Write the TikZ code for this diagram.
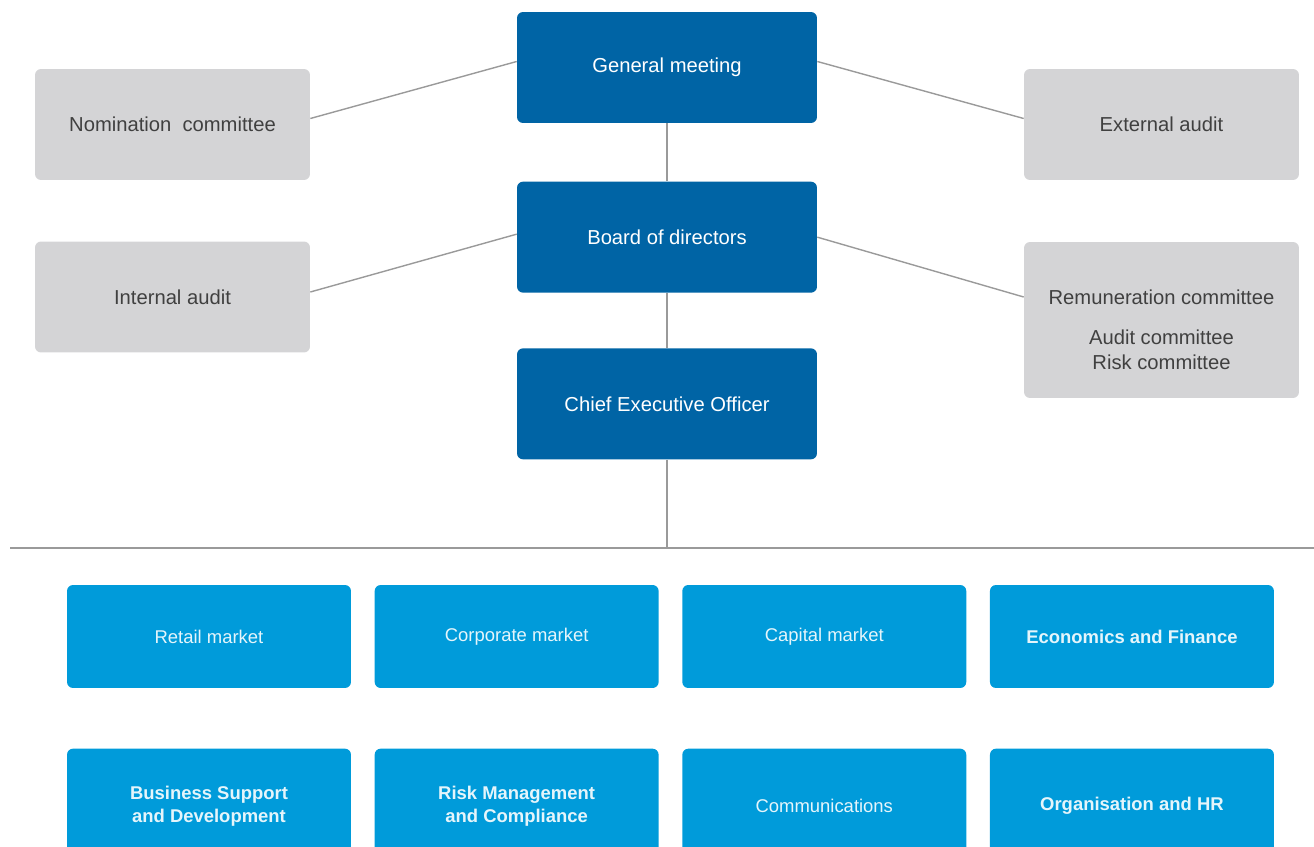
\documentclass[tikz,border=0pt]{standalone}
\usepackage{fontspec}
\setmainfont{Liberation Sans}
\usetikzlibrary{positioning}
\definecolor{govblue}{HTML}{0064A5}
\definecolor{unitblue}{HTML}{009BDA}
\definecolor{boxgrey}{HTML}{D4D4D6}
\definecolor{textgrey}{HTML}{404040}
\definecolor{linegrey}{HTML}{9A9A9A}

\begin{document}
\begin{tikzpicture}[x=0.02cm, y=-0.02cm, node distance=1.16cm, font=\fontsize{11.5}{14}\selectfont,
    gov/.style={rectangle, rounded corners=0.12cm, fill=govblue, text=white, minimum width=6cm, minimum height=2.22cm},
    side/.style={rectangle, rounded corners=0.12cm, fill=boxgrey, text=textgrey, minimum width=5.5cm, minimum height=2.22cm},
    unit/.style={rectangle, rounded corners=0.12cm, fill=unitblue, text=white!90!unitblue, minimum width=5.68cm, minimum height=2.06cm, align=center, font=\fontsize{10.5}{13.5}\selectfont},
    link/.style={draw=linegrey, line width=0.8pt}]
            \clip (0,0) rectangle (1314,847);
            \node[gov](gm) at (667,67.5) {General meeting};
            \node[gov](board)[below=of gm] {Board of directors};
            \node[gov](ceo)[below=1.1cm of board] {Chief Executive Officer};
            \node[side](nom) at (172.5,124.5) {Nomination\ \ committee};
            \node[side](ext) at (1161.5,124.5) {External audit};
            \node[side](int) at (172.5,297) {Internal audit};
            \node[side, minimum height=3.12cm, label={[align=center, text=textgrey, yshift=-0.19cm]center:Remuneration committee\\[9pt]Audit committee\\Risk committee}](rem) at (1161.5,320) {};
            \coordinate(rule-l) at (10,548);
            \coordinate(rule-r) at (1314,548);
            \node[unit](retail) at (209,636.5) {Retail market};
            \node[unit](corp)[right=0.46cm of retail] {Corporate market};
            \node[unit](capital)[right=0.46cm of corp] {Capital market};
            \node[unit](finance)[right=0.46cm of capital] {\bfseries Economics and Finance};
            \node[unit, minimum height=2.3cm](business)[below=1.2cm of retail.south, anchor=north] {\bfseries Business Support\\\bfseries and Development};
            \node[unit, minimum height=2.3cm](risk)[right=0.46cm of business] {\bfseries Risk Management\\\bfseries and Compliance};
            \node[unit, minimum height=2.3cm](comms)[right=0.46cm of risk] {Communications};
            \node[unit, minimum height=2.3cm](hr)[right=0.46cm of comms] {\bfseries Organisation and HR};
            \path[link]
                (gm) edge (board)
                (board) edge (ceo)
                (ceo) edge (ceo |- rule-l)
                (rule-l) edge (rule-r)
                ([yshift=0.12cm]nom.east) edge ([yshift=0.12cm]gm.west)
                ([yshift=0.12cm]gm.east) edge ([yshift=0.12cm]ext.west)
                ([yshift=0.1cm]int.east) edge ([yshift=0.06cm]board.west)
                (board.east) edge ([yshift=0.46cm]rem.west);
        \end{tikzpicture}
\end{document}
